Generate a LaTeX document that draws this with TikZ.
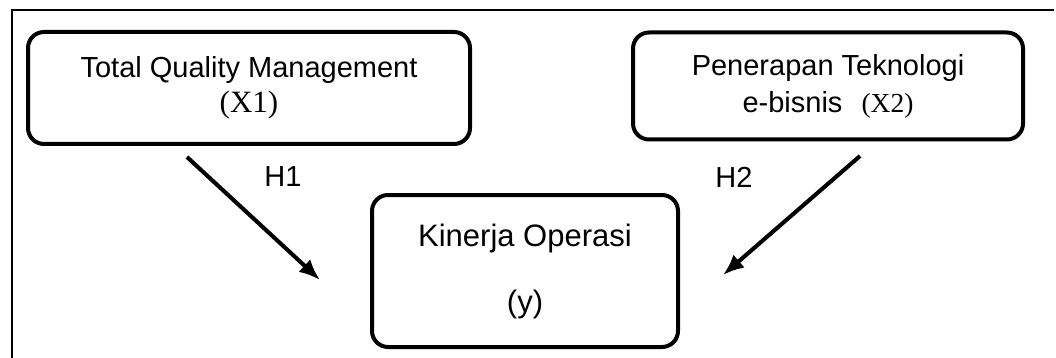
\documentclass[tikz,border=0pt]{standalone}
\usepackage{fontspec}
\setmainfont{Liberation Sans}
\newfontfamily\timesx{Liberation Serif}
\usetikzlibrary{arrows.meta}

\begin{document}
\begin{tikzpicture}[x=1pt, y=-1pt,
    box/.style={draw, line width=4pt, rounded corners=16pt, align=center, inner sep=0pt},
    hyp/.style={line width=4pt, -{Latex[length=21pt,width=17pt]}},
    hypshade/.style={line width=4pt, draw=black!22, -{Latex[length=21pt,width=17pt]}, shift={(2,2)}}]

        \useasboundingbox (0,0) rectangle (1056,358);

        % Frame
        \draw[line width=1.3pt] (12,358) -- (12,10) -- (1054,10);

        % Nodes
        \node (tqm) [box, minimum width=442pt, minimum height=112pt, font=\fontsize{29}{35}\selectfont] at (249,88) {Total Quality Management\\{\timesx\fontsize{31}{35}\selectfont (X1)}};
        \node (tek) [box, minimum width=390pt, minimum height=107pt, font=\fontsize{29}{37}\selectfont] at (828,86) {Penerapan Teknologi\\e-bisnis\hspace{19pt}{\timesx\fontsize{27.5}{37}\selectfont (X2)}};
        \node (kin) [box, minimum width=306pt, minimum height=152pt, font=\fontsize{31}{36}\selectfont] at (525,271) {Kinerja Operasi\\[30pt](y)};

        \node (h1) [font=\fontsize{29}{35}\selectfont] at (283,177) {H1};
        \node (h2) [font=\fontsize{29}{35}\selectfont] at (734,177) {H2};

        % Arrows
        \coordinate (h1from) at (187,157);
        \coordinate (h1to) at (320,280);
        \coordinate (h2from) at (860,156);
        \coordinate (h2to) at (723,275);
        \foreach \i/\j in {h1from/h1to, h2from/h2to} {
            \draw[hypshade] (\i) -- (\j);
            \draw[hyp] (\i) -- (\j);
        }

\end{tikzpicture}
\end{document}
